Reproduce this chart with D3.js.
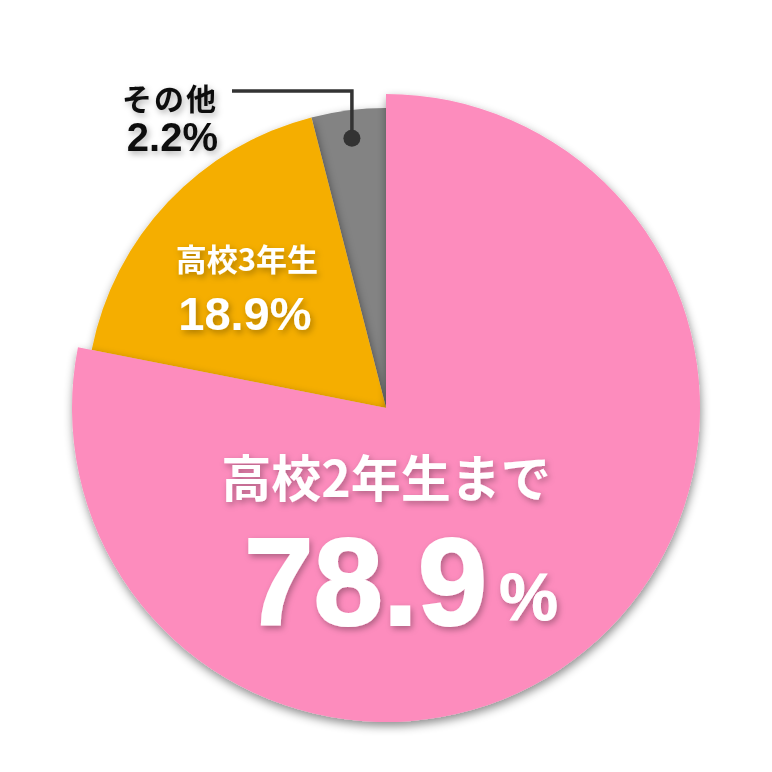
<!DOCTYPE html>
<html>
<head>
<meta charset="utf-8">
<script src="https://cdn.jsdelivr.net/npm/d3@7"></script>
<style>
  html, body { margin: 0; padding: 0; background: #fff; }
  text { font-family: "Noto Sans CJK JP", "Noto Sans", sans-serif; font-weight: 700; }
  text.num { font-family: "Liberation Sans", Arial, sans-serif; font-weight: 700; }
</style>
</head>
<body>
<div class="mydiv"></div>
<script>
//----------------------------------------------------- DATA ---------------------------------------------------------
var categories = ["高校2年生まで", "高校3年生", "その他"];
// slice sizes as drawn in the picture (the gray one is drawn wider than its label)
var shares = [78.1, 17.9, 4.0];
var pctLabels = ["78.9", "18.9", "2.2"];
var colors = ["#fd8cbd", "#f5ae00", "#838383"];

//----------------------------------------------------- SVG ----------------------------------------------------------
var width = 772;
var height = 772;
var cx = 386, cy = 408;
var rBig = 314, rSmall = 300;

var svg = d3.select(".mydiv").append("svg")
    .attr("width", width)
    .attr("height", height);

var defs = svg.append("defs");

defs.append("filter")
    .attr("id", "shadow")
    .attr("x", "-20%").attr("y", "-20%")
    .attr("width", "140%").attr("height", "140%")
  .append("feDropShadow")
    .attr("dx", 1).attr("dy", 4)
    .attr("stdDeviation", 5)
    .attr("flood-color", "#000")
    .attr("flood-opacity", 0.45);

defs.append("filter")
    .attr("id", "tshadow")
    .attr("x", "-20%").attr("y", "-30%")
    .attr("width", "140%").attr("height", "160%")
  .append("feDropShadow")
    .attr("dx", 2).attr("dy", 3)
    .attr("stdDeviation", 3)
    .attr("flood-color", "#000")
    .attr("flood-opacity", 0.3);

var pie = d3.pie().sort(null).value(function(d) { return d; });
var slices = pie(shares);

var arc = d3.arc()
    .innerRadius(0)
    .outerRadius(function(d) { return d.index === 0 ? rBig : rSmall; });

var g = svg.append("g").attr("transform", "translate(" + cx + "," + cy + ")");

// draw small slices first, the big pink one on top
g.selectAll("path")
    .data(slices.slice().reverse())
    .enter().append("path")
    .attr("d", arc)
    .attr("fill", function(d) { return colors[d.index]; })
    .attr("filter", "url(#shadow)");

//--------------------------------------------------- LABELS ---------------------------------------------------------
// pink
svg.append("text")
    .attr("x", cx).attr("y", 497)
    .attr("text-anchor", "middle")
    .attr("font-size", 50)
    .attr("fill", "#fff")
    .attr("filter", "url(#tshadow)")
    .text(categories[0]);

var big = svg.append("text")
    .attr("class", "num")
    .attr("x", 244).attr("y", 625)
    .attr("fill", "#fff")
    .attr("stroke", "#fff")
    .attr("stroke-width", 2)
    .attr("filter", "url(#tshadow)");
big.append("tspan").attr("font-size", 125).text(pctLabels[0]);
big.append("tspan").attr("font-size", 66).attr("dx", 12).attr("dy", -5).attr("stroke-width", 1).text("%");

// orange
var oc = d3.arc().innerRadius(190).outerRadius(190).centroid(slices[1]);
svg.append("text")
    .attr("x", cx + oc[0] - 1).attr("y", 271)
    .attr("text-anchor", "middle")
    .attr("font-size", 31)
    .attr("fill", "#fff")
    .attr("filter", "url(#tshadow)")
    .text(categories[1]);
svg.append("text")
    .attr("class", "num")
    .attr("x", cx + oc[0] - 3).attr("y", 330)
    .attr("text-anchor", "middle")
    .attr("font-size", 47)
    .attr("fill", "#fff")
    .attr("filter", "url(#tshadow)")
    .text(pctLabels[1] + "%");

// gray with leader line
var gc = d3.arc().innerRadius(272).outerRadius(272).centroid(slices[2]);
var dotX = cx + gc[0], dotY = cy + gc[1];

svg.append("path")
    .attr("d", "M232,91H" + dotX + "V" + dotY)
    .attr("fill", "none")
    .attr("stroke", "#333")
    .attr("stroke-width", 3.5);
svg.append("circle")
    .attr("cx", dotX).attr("cy", dotY)
    .attr("r", 8.5)
    .attr("fill", "#333");

svg.append("text")
    .attr("x", 218).attr("y", 110)
    .attr("text-anchor", "end")
    .attr("font-size", 30)
    .attr("letter-spacing", 2)
    .attr("fill", "#111")
    .attr("filter", "url(#tshadow)")
    .text(categories[2]);
svg.append("text")
    .attr("class", "num")
    .attr("x", 218).attr("y", 151)
    .attr("text-anchor", "end")
    .attr("font-size", 40)
    .attr("fill", "#111")
    .attr("filter", "url(#tshadow)")
    .text(pctLabels[2] + "%");
</script>
</body>
</html>
